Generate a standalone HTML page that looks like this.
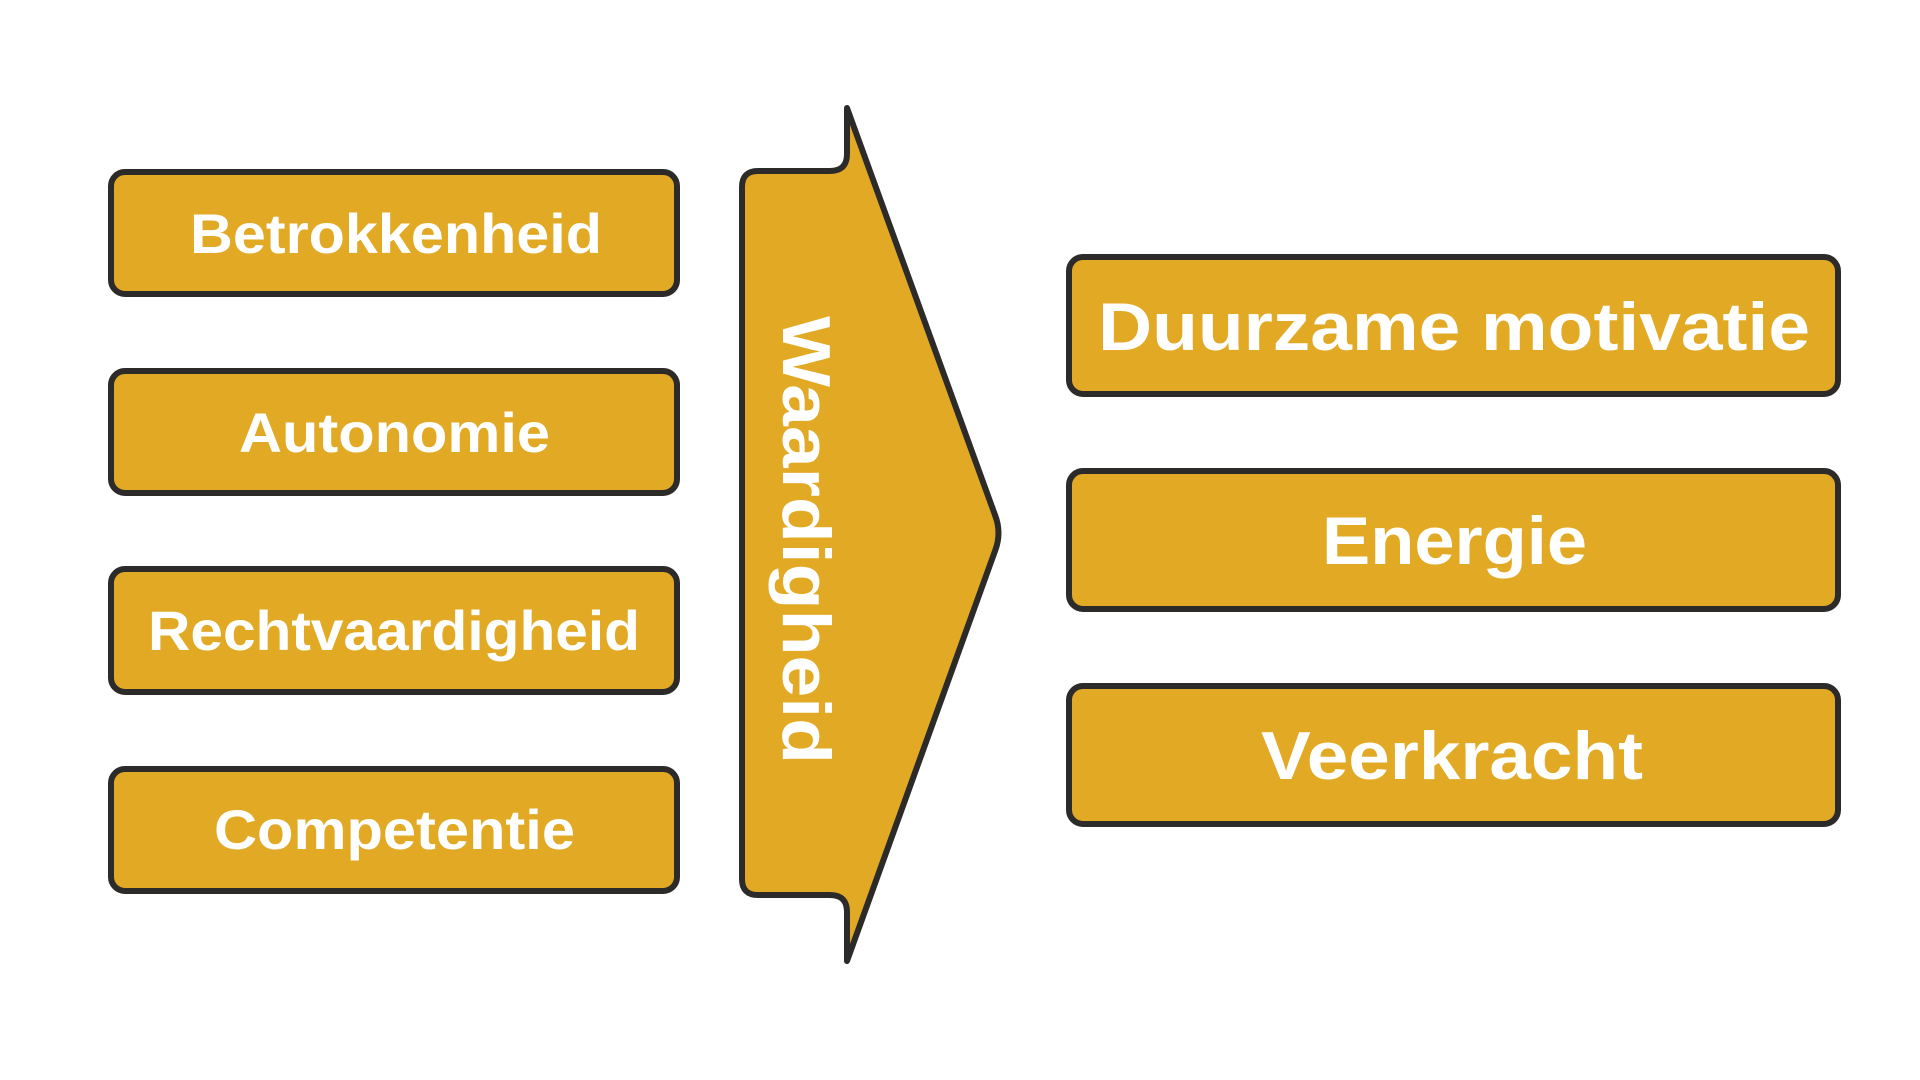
<!DOCTYPE html>
<html><head><meta charset="utf-8"><style>
html,body{margin:0;padding:0;background:#fff;}
svg{display:block;}
text{font-family:"Liberation Sans",sans-serif;font-weight:bold;fill:#fff;}
</style></head><body>
<svg width="1920" height="1080" viewBox="0 0 1920 1080">
<g fill="#e2a925" stroke="#2d2b29" stroke-width="6">
<rect x="111" y="172" width="566" height="122" rx="14"/>
<rect x="111" y="371" width="566" height="122" rx="14"/>
<rect x="111" y="569" width="566" height="123" rx="14"/>
<rect x="111" y="769" width="566" height="122" rx="14"/>
<rect x="1069" y="257" width="769" height="137" rx="14"/>
<rect x="1069" y="471" width="769" height="138" rx="14"/>
<rect x="1069" y="686" width="769" height="138" rx="14"/>
<path d="M758,171 L830,171 Q847,171 847,154 L847,108 L995,515 Q1002,533 995,551 L847,961 L847,912 Q847,895 830,895 L758,895 Q742,895 742,879 L742,187 Q742,171 758,171 Z" stroke-linejoin="round"/>
</g>
<g font-size="56">
<text x="190" y="253" textLength="412" lengthAdjust="spacingAndGlyphs">Betrokkenheid</text>
<text x="239" y="452" textLength="311" lengthAdjust="spacingAndGlyphs">Autonomie</text>
<text x="148" y="650" textLength="492" lengthAdjust="spacingAndGlyphs">Rechtvaardigheid</text>
<text x="214" y="849" textLength="361" lengthAdjust="spacingAndGlyphs">Competentie</text>
</g>
<g font-size="68">
<text x="1098" y="350" textLength="712" lengthAdjust="spacingAndGlyphs">Duurzame motivatie</text>
<text x="1322" y="564" textLength="265" lengthAdjust="spacingAndGlyphs">Energie</text>
<text x="1261" y="779" textLength="382" lengthAdjust="spacingAndGlyphs">Veerkracht</text>
</g>
<text font-size="68" transform="translate(783,316) rotate(90)" x="0" y="0" textLength="448" lengthAdjust="spacingAndGlyphs">Waardigheid</text>
</svg>
</body></html>
